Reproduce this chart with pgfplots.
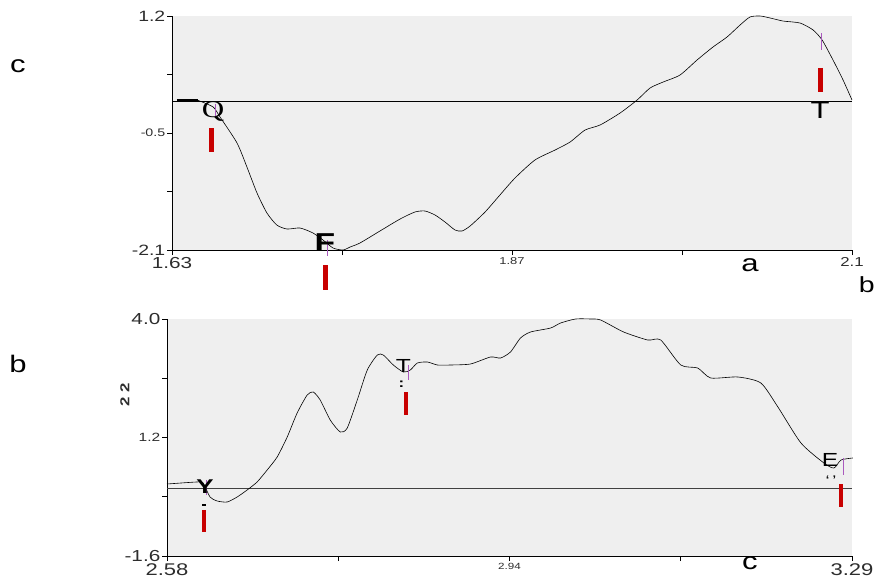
\documentclass[border=0pt]{standalone}
\usepackage{pgfplots}
\pgfplotsset{compat=1.18}
\usepackage{graphicx}
\usepackage{fontspec}
\setmainfont{Liberation Sans}
\newfontfamily\serifQ{Liberation Serif}
\definecolor{bgc}{RGB}{239,239,239}
\definecolor{redbar}{RGB}{200,0,0}
\definecolor{mag}{RGB}{170,90,190}
\definecolor{tickc}{RGB}{45,45,45}
\newcommand{\fs}[1]{\fontsize{#1}{#1}\selectfont}
\newcommand{\wt}[2]{\scalebox{1.3}[1]{\fs{#1}#2}}
\pgfplotsset{
  panel/.style={
    scale only axis, anchor=north west, clip=false,
    axis x line*=bottom, axis y line*=left,
    axis line style={-, black, line width=0.8bp},
    axis background/.style={fill=bgc},
    tick align=outside, major tick length=5bp,
    every tick/.style={black, line width=0.6bp},
    /pgf/number format/assume math mode=true,
    tick label style={text=tickc},
    xticklabel style={inner sep=2bp},
    yticklabel style={inner sep=1.5bp},
  }
}
\begin{document}
\begin{tikzpicture}
\path[use as bounding box] (0,0) rectangle (876bp,-582bp);
% top panel
\begin{axis}[panel, at={(172bp,-16bp)}, width=680bp, height=234bp,
  xmin=1.63, xmax=2.11, ymin=-2.1, ymax=1.2,
  xtick={1.63,1.75,1.87,1.99,2.11},
  xticklabels={{\wt{16}{1.63}},{},{\wt{10}{1.87}},{},{\wt{13}{2.1}}},
  ytick={1.2,0.375,-0.45,-1.275,-2.1},
  yticklabels={{\wt{15}{1.2}},{},{\wt{11}{-0.5}},{},{\wt{15}{-2.1}}},
]
\addplot[black, line width=0.7bp] coordinates {(1.63,0) (2.11,0)};
\addplot[black, line width=2bp] coordinates {(1.6335,0.02) (1.6484,0.02)};
\addplot[black, line width=0.6bp, smooth, tension=0.4] coordinates {
(1.6484,0.01) (1.659,-0.083) (1.6639,-0.224) (1.6759,-0.591) (1.6829,-0.930)
(1.690,-1.296) (1.697,-1.578) (1.704,-1.748) (1.7112,-1.804) (1.7204,-1.790)
(1.7295,-1.860) (1.7366,-1.959) (1.7437,-2.072) (1.7507,-2.100) (1.7557,-2.058)
(1.7627,-2.001) (1.7768,-1.832) (1.791,-1.663) (1.8015,-1.564) (1.8086,-1.550)
(1.8157,-1.607) (1.8227,-1.705) (1.8298,-1.818) (1.8347,-1.832) (1.8404,-1.762)
(1.851,-1.564) (1.8615,-1.324) (1.8721,-1.085) (1.8862,-0.831) (1.9004,-0.690)
(1.911,-0.577) (1.9216,-0.408) (1.9322,-0.337) (1.9463,-0.168) (1.9583,0.015)
(1.9675,0.185) (1.9767,0.269) (1.9886,0.368) (2.0006,0.579) (2.0119,0.763)
(2.0218,0.904) (2.031,1.073) (2.038,1.186) (2.0451,1.200) (2.0522,1.172)
(2.0613,1.129) (2.0733,1.101) (2.0825,1.003) (2.0889,0.862) (2.0966,0.579)
(2.1037,0.297) (2.11,0.015)};
% markers
\addplot[mag, line width=0.9bp] coordinates {(1.661,-0.041) (1.661,-0.210)};
\addplot[redbar, line width=5bp] coordinates {(1.6582,-0.380) (1.6582,-0.718)};
\addplot[mag, line width=0.9bp] coordinates {(1.7394,-1.96) (1.7394,-2.18)};
\addplot[redbar, line width=5bp] coordinates {(1.7387,-2.312) (1.7387,-2.664)};
\addplot[mag, line width=0.9bp] coordinates {(2.0882,0.960) (2.0882,0.720)};
\addplot[redbar, line width=5bp] coordinates {(2.0875,0.467) (2.0875,0.128)};
\node[inner sep=0] at (axis cs:1.659,-0.150) {\wt{24}{\serifQ Q}};
\node[inner sep=0] at (axis cs:1.738,-1.990) {\wt{26}{\bfseries F}};
\node[inner sep=0] at (axis cs:2.0875,-0.135) {\wt{24}{T}};
\end{axis}
% bottom panel
\begin{axis}[panel, at={(167bp,-319bp)}, width=685bp, height=237bp,
  xmin=2.58, xmax=3.29, ymin=-1.6, ymax=4.0,
  xtick={2.58,2.7575,2.935,3.1125,3.29},
  xticklabels={{\wt{17}{2.58}},{},{\wt{9}{2.94}},{},{\wt{17}{3.29}}},
  ytick={4.0,2.6,1.2,-0.2,-1.6},
  yticklabels={{\wt{16}{4.0}},{},{\wt{12}{1.2}},{},{\wt{16}{-1.6}}},
]
\addplot[black!75, line width=1.5bp] coordinates {(2.58,0) (3.29,0)};
\addplot[black, line width=0.6bp, smooth, tension=0.4] coordinates {
(2.58,0.101) (2.6111,0.149) (2.6174,0.125) (2.6246,-0.206) (2.6319,-0.300)
(2.6423,-0.324) (2.6527,-0.206) (2.663,-0.041) (2.6734,0.149) (2.6838,0.432)
(2.6942,0.740) (2.7046,1.212) (2.7149,1.779) (2.7253,2.204) (2.7316,2.275)
(2.7388,2.086) (2.7492,1.613) (2.7596,1.330) (2.7668,1.424) (2.7772,2.086)
(2.7876,2.795) (2.798,3.149) (2.8042,3.149) (2.8146,2.913) (2.825,2.747)
(2.8322,2.795) (2.8395,2.960) (2.8499,2.984) (2.8603,2.913) (2.8737,2.913)
(2.8945,2.937) (2.9153,3.102) (2.9257,3.078) (2.936,3.220) (2.9464,3.551)
(2.9568,3.693) (2.9776,3.787) (2.9879,3.905) (3.0035,4.0) (3.0191,4.0)
(3.0295,3.976) (3.0533,3.693) (3.0782,3.504) (3.0917,3.504) (3.1125,2.913)
(3.1301,2.842) (3.1436,2.606) (3.1717,2.630) (3.1955,2.488) (3.2132,1.921)
(3.2371,1.070) (3.2609,0.597) (3.2713,0.479) (3.2786,0.668) (3.291,0.716)};
% markers
\addplot[mag, line width=0.9bp] coordinates {(2.6205,0.196) (2.6205,-0.159)};
\addplot[black, line width=1.8bp] coordinates {(2.6164,-0.395) (2.6204,-0.395)};
\addplot[redbar, line width=4bp] coordinates {(2.6184,-0.513) (2.6184,-1.033)};
\addplot[mag, line width=0.9bp] coordinates {(2.8302,2.913) (2.8302,2.559)};
\addplot[redbar, line width=4bp] coordinates {(2.8281,2.275) (2.8281,1.732)};
\addplot[mag, line width=0.9bp] coordinates {(3.281,0.716) (3.281,0.314)};
\addplot[redbar, line width=4bp] coordinates {(3.2789,0.101) (3.2789,-0.442)};
\node[inner sep=0] at (axis cs:2.6194,0.040) {\wt{20}{\bfseries Y}};
\node[inner sep=0] at (axis cs:2.825,2.889) {\wt{19}{T}};
\node[inner sep=0] at (axis cs:2.8229,2.45) {\wt{13}{\bfseries :}};
\node[inner sep=0] at (axis cs:3.2672,0.668) {\wt{19}{E}};
\node[inner sep=0] at (axis cs:3.2682,0.18) {\wt{14}{`\hspace{2bp}'}};
\node[rotate=90, text=tickc, inner sep=0] at (axis cs:2.5364,2.2) {\wt{13}{\bfseries 2 2}};
\end{axis}
% outer letters
\node[inner sep=0] at (18bp,-66bp) {\wt{24}{c}};
\node[inner sep=0] at (750bp,-265bp) {\wt{24}{a}};
\node[inner sep=0, anchor=east] at (875bp,-285bp) {\wt{22}{b}};
\node[inner sep=0] at (18bp,-364bp) {\wt{24}{b}};
\node[inner sep=0] at (750bp,-563bp) {\wt{24}{c}};
\end{tikzpicture}
\end{document}
